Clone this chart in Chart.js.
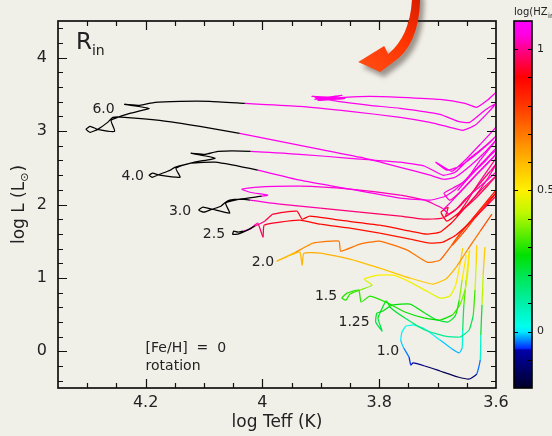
<!DOCTYPE html>
<html>
<head>
<meta charset="utf-8">
<script src="https://cdn.jsdelivr.net/npm/chart.js@4.4.1/dist/chart.umd.min.js"></script>
<style>
  html, body { margin: 0; padding: 0; background: #f0efe8; }
  canvas { display: block; }
</style>
</head>
<body>
<canvas id="hr" width="552" height="436"></canvas>
<script>
// Evolutionary tracks, [Fe/H] = 0 with rotation.
// Each track: log Teff, log L (Lsun) and log(HZ_in) along the track.
const massLabels = ['6.0', '4.0', '3.0', '2.5', '2.0', '1.5', '1.25', '1.0'];

const teff60 = [3.600,3.619,3.645,3.670,3.689,3.713,3.764,3.833,3.901,3.970,4.039,
  4.107,4.176,4.236,4.256,4.265,4.282,4.295,4.302,4.295,4.282,4.253,4.259,4.227,4.194,4.236,4.210,4.184,4.141,4.090,
  4.030,3.936,3.850,3.764,3.713,3.679,3.657,3.636,3.615,3.600,
  3.619,3.645,3.665,3.696,3.764,3.816,3.871,3.910,3.867,3.915,3.859,3.905,3.864,3.910,3.859,
  3.816,3.764,3.696,3.653,3.633,3.615,3.600];
const lum60 = [2.875,2.712,2.521,2.371,2.344,2.399,2.507,2.644,2.752,2.861,2.970,
  3.065,3.147,3.188,3.188,3.119,3.024,2.984,3.024,3.065,3.024,2.997,3.147,3.242,3.310,3.365,3.351,3.392,3.405,3.405,
  3.378,3.337,3.269,3.188,3.119,3.052,3.011,3.079,3.242,3.378,
  3.283,3.119,3.133,3.229,3.310,3.351,3.405,3.460,3.432,3.473,3.446,3.419,3.487,3.432,3.460,
  3.473,3.460,3.432,3.378,3.324,3.419,3.528];
const hz60 = [1.07,1.07,1.07,1.07,1.07,1.07,1.07,1.07,1.07,1.07,1.07,
  1.2,1.2,1.2,1.2,1.2,1.2,1.2,1.2,1.2,1.2,1.2,1.2,1.2,1.2,1.2,1.2,1.2,1.2,1.2,
  1.07,1.07,1.07,1.07,1.07,1.07,1.07,1.07,1.07,1.07,
  1.07,1.07,1.07,1.07,1.07,1.07,1.07,1.07,1.07,1.07,1.07,1.07,1.07,1.07,1.07,
  1.07,1.07,1.07,1.07,1.07,1.07,1.07];

const teff40 = [3.600,3.624,3.648,3.669,3.687,3.713,3.764,3.850,3.936,4.008,
  4.081,4.122,4.150,4.158,4.176,4.189,4.194,4.188,4.176,4.141,4.148,4.116,4.081,4.122,4.098,4.076,
  4.020,3.936,3.850,3.764,3.722,3.691,3.670,3.645,3.619,3.600,3.614,3.638,3.662,3.684,3.703,3.689,3.675,3.653,3.627,3.600];
const lum40 = [2.739,2.562,2.371,2.208,2.113,2.059,2.086,2.208,2.331,2.467,
  2.576,2.562,2.507,2.467,2.412,2.371,2.399,2.426,2.399,2.371,2.494,2.576,2.630,2.698,2.684,2.725,
  2.725,2.684,2.630,2.576,2.521,2.399,2.439,2.630,2.793,2.929,2.820,2.657,2.521,2.467,2.576,2.507,2.453,2.603,2.820,3.052];
const hz40 = [1.07,1.07,1.07,1.07,1.07,1.07,1.07,1.07,1.07,1.07,
  1.2,1.2,1.2,1.2,1.2,1.2,1.2,1.2,1.2,1.2,1.2,1.2,1.2,1.2,1.2,1.2,
  1.07,1.07,1.07,1.07,1.07,1.07,1.07,1.07,1.07,1.07,1.07,1.07,1.07,1.07,1.07,1.07,1.07,1.07,1.07,1.07];

const teff30 = [3.600,3.627,3.651,3.670,3.692,3.725,3.764,3.833,3.901,3.970,4.021,
  4.039,4.056,4.063,4.071,4.086,4.100,4.109,4.102,4.086,4.056,4.063,4.039,
  4.001,3.991,4.021,4.035,4.013,3.936,3.850,3.764,3.722,3.692,3.681,3.689,3.679,3.658,3.633,3.610,3.600,
  3.614,3.638,3.662,3.679,3.689,3.674,3.651,3.624,3.600,
  3.617,3.645,3.665,3.651,3.627,3.600];
const lum30 = [2.439,2.249,2.086,1.922,1.814,1.800,1.841,1.895,1.950,2.004,2.059,
  2.072,2.059,2.031,1.977,1.936,1.895,1.922,1.963,1.936,1.882,2.018,2.072,
  2.113,2.127,2.167,2.208,2.235,2.249,2.208,2.127,2.059,1.950,1.868,1.936,2.018,2.195,2.412,2.603,2.684,
  2.562,2.371,2.167,2.059,2.154,2.222,2.331,2.562,2.766,
  2.603,2.385,2.195,2.331,2.603,2.875];
const hz30 = [1.06,1.03,1.0,0.97,0.95,0.95,0.96,0.98,1.0,1.03,1.06,
  1.2,1.2,1.2,1.2,1.2,1.2,1.2,1.2,1.2,1.2,1.2,1.2,
  1.07,1.07,1.07,1.07,1.07,1.05,1.03,1.02,1.02,1.03,1.03,1.03,1.04,1.05,1.06,1.07,1.07,
  1.06,1.05,1.04,1.03,1.04,1.04,1.05,1.06,1.07,
  1.06,1.05,1.04,1.05,1.06,1.07];

const teff25 = [3.600,3.622,3.646,3.669,3.691,3.713,3.747,3.799,3.850,3.901,3.936,3.970,3.997,3.999,4.008,4.021,4.033,
  4.042,4.049,4.051,4.042,4.033,
  4.013,3.996,3.982,3.941,3.932,3.919,3.867,3.799,3.747,3.718,3.696,3.675,3.651,3.626,3.600,
  3.612,3.638,3.662,3.684,3.694,3.682,3.686,3.662,3.636,3.610,3.600,
  3.614,3.641,3.667,3.655,3.631,3.600];
const lum25 = [2.113,1.936,1.745,1.582,1.487,1.473,1.528,1.609,1.677,1.732,1.786,1.759,1.718,1.555,1.745,1.664,1.637,
  1.623,1.637,1.596,1.596,1.623,
  1.705,1.773,1.868,1.909,1.800,1.841,1.786,1.718,1.637,1.596,1.623,1.759,1.977,2.195,2.385,
  2.276,2.059,1.895,1.773,1.895,1.963,1.841,1.977,2.208,2.453,2.548,
  2.358,2.059,1.841,1.977,2.276,2.630];
const hz25 = [0.98,0.95,0.92,0.89,0.87,0.86,0.86,0.87,0.88,0.89,0.90,0.92,0.94,0.95,1.0,1.05,1.07,
  1.2,1.2,1.2,1.2,1.2,
  1.03,0.97,0.93,0.92,0.91,0.90,0.90,0.89,0.88,0.88,0.88,0.90,0.93,0.97,1.0,
  0.98,0.95,0.92,0.91,0.92,0.92,0.92,0.93,0.96,1.0,1.02,
  1.0,0.96,0.93,0.94,0.98,1.03];

const teff20 = [3.607,3.627,3.648,3.667,3.686,3.708,3.747,3.799,3.850,3.901,3.929,3.932,3.936,3.956,3.975,
  3.943,3.913,3.869,3.866,3.833,3.799,3.752,3.718,3.696,3.667,3.645,3.621,3.600,
  3.614,3.636,3.658,3.675,3.665,3.641,3.617,3.600];
const lum20 = [1.868,1.637,1.392,1.161,0.984,0.916,0.997,1.133,1.256,1.337,1.337,1.174,1.351,1.297,1.229,
  1.351,1.473,1.501,1.365,1.460,1.501,1.378,1.215,1.242,1.541,1.759,1.977,2.154,
  2.018,1.814,1.596,1.446,1.569,1.800,2.031,2.195];
const hz20 = [0.80,0.74,0.68,0.63,0.59,0.57,0.57,0.58,0.60,0.62,0.62,0.60,0.60,0.59,0.58,
  0.62,0.70,0.71,0.70,0.71,0.72,0.71,0.70,0.71,0.76,0.81,0.86,0.90,
  0.87,0.82,0.77,0.74,0.76,0.80,0.86,0.90];

const teff15 = [3.645,3.648,3.653,3.662,3.675,3.696,3.722,3.756,3.785,3.816,3.831,3.835,3.855,3.864,3.857,3.850,
  3.833,3.812,3.826,3.802,3.776,3.747,3.716,3.696,3.679,3.669,3.662,3.657];
const lum15 = [1.378,1.106,0.834,0.630,0.494,0.426,0.453,0.535,0.657,0.752,0.671,0.834,0.793,0.725,0.698,0.780,
  0.834,0.902,0.984,1.038,1.038,0.943,0.807,0.725,0.752,0.902,1.174,1.405];
const hz15 = [0.55,0.48,0.40,0.33,0.29,0.27,0.27,0.28,0.29,0.30,0.30,0.30,0.30,0.30,0.30,0.30,
  0.33,0.42,0.48,0.50,0.50,0.49,0.47,0.46,0.47,0.49,0.53,0.58];

const teff125 = [3.633,3.634,3.636,3.639,3.646,3.662,3.687,3.722,3.756,3.780,3.788,3.802,3.795,3.806,3.804,3.794,
  3.778,3.747,3.722,3.701,3.682,3.670,3.663,3.658,3.651];
const lum125 = [1.446,1.174,0.834,0.494,0.290,0.195,0.208,0.290,0.453,0.589,0.684,0.453,0.276,0.399,0.521,0.548,
  0.630,0.643,0.521,0.426,0.399,0.480,0.698,0.970,1.310];
const hz125 = [0.60,0.50,0.38,0.25,0.15,0.12,0.12,0.14,0.20,0.25,0.27,0.22,0.20,0.22,0.25,0.25,
  0.27,0.27,0.25,0.22,0.22,0.25,0.32,0.45,0.58];

const teff10 = [3.619,3.622,3.624,3.626,3.627,3.633,3.645,3.665,3.696,3.722,3.742,3.746,3.749,3.758,3.763,
  3.761,3.754,3.740,3.722,3.696,3.675,3.663,3.658,3.657,3.655,3.651,3.646];
const lum10 = [1.419,1.038,0.630,0.222,-0.118,-0.309,-0.377,-0.350,-0.268,-0.200,-0.159,-0.186,-0.078,0.045,0.154,
  0.263,0.344,0.358,0.303,0.154,0.031,-0.023,0.045,0.290,0.630,0.970,1.365];
const hz10 = [0.65,0.50,0.33,0.12,0.0,-0.08,-0.15,-0.17,-0.15,-0.12,-0.08,-0.07,-0.05,-0.02,0.0,
  0.01,0.02,0.02,0.02,0.0,-0.02,-0.02,0.0,0.10,0.25,0.42,0.60];

// Where each mass label sits (log Teff, log L)
const labelTeff = [4.272, 4.222, 4.141, 4.083, 3.999, 3.891, 3.843, 3.785];
const labelLum  = [3.296, 2.385, 1.909, 1.596, 1.215, 0.752, 0.399, 0.004];

// Axis tick labels and colour-bar range
const teffTickLabels = [3.6, 3.8, 4.0, 4.2];
const lumTickLabels = [0, 1, 2, 3, 4];
const hzTickLabels = [0, 0.5, 1];
const HZ_MIN = -0.2, HZ_MAX = 1.1;

// Pointer arrow tip (log Teff, log L)
const arrowTip = [3.836, 3.94];

const BG = '#f0efe8';
const INK = '#222';
const FONT = 'DejaVu Sans';

// Colour map for log(HZ_in); values above the top of the bar are drawn black
const cmapStops = [
  [-0.2, [0, 0, 40]], [-0.065, [0, 0, 170]], [-0.06, [0, 40, 255]], [-0.03, [0, 140, 255]],
  [0.0, [0, 235, 255]], [0.02, [0, 255, 235]], [0.1, [0, 240, 170]], [0.2, [0, 230, 80]],
  [0.27, [0, 225, 0]], [0.35, [100, 238, 0]], [0.42, [190, 248, 0]], [0.5, [255, 240, 0]],
  [0.6, [255, 185, 0]], [0.7, [255, 120, 0]], [0.8, [255, 55, 0]], [0.9, [255, 0, 0]],
  [0.95, [255, 0, 70]], [1.0, [255, 0, 140]], [1.05, [255, 0, 225]], [1.1, [255, 0, 255]]
];
function cmap(v) {
  if (v <= cmapStops[0][0]) return cmapStops[0][1];
  for (let i = 1; i < cmapStops.length; i++) {
    const [v1, c1] = cmapStops[i];
    if (v <= v1) {
      const [v0, c0] = cmapStops[i - 1];
      const t = (v - v0) / (v1 - v0);
      return c0.map((c, k) => Math.round(c + (c1[k] - c) * t));
    }
  }
  return cmapStops[cmapStops.length - 1][1];
}
function hzColor(v) {
  if (v > HZ_MAX + 1e-9) return '#000';
  const c = cmap(v);
  return `rgb(${c[0]},${c[1]},${c[2]})`;
}

const tracks = [
  [teff60, lum60, hz60], [teff40, lum40, hz40], [teff30, lum30, hz30], [teff25, lum25, hz25],
  [teff20, lum20, hz20], [teff15, lum15, hz15], [teff125, lum125, hz125], [teff10, lum10, hz10]
];

const datasets = tracks.map(([t, l, h], i) => ({
  label: massLabels[i],
  data: t.map((x, j) => ({ x, y: l[j] })),
  showLine: true,
  pointRadius: 0,
  borderWidth: 1.25,
  tension: 0.15,
  borderColor: hzColor(h[0]),
  segment: {
    borderColor: ctx => hzColor((h[ctx.p0DataIndex] + h[ctx.p1DataIndex]) / 2)
  }
}));

const decor = {
  id: 'decor',
  beforeDraw(chart) {
    const c = chart.ctx;
    c.save();
    c.fillStyle = BG;
    c.fillRect(0, 0, chart.width, chart.height);
    c.restore();
  },
  afterDraw(chart) {
    const c = chart.ctx, a = chart.chartArea;
    const xs = chart.scales.x, ys = chart.scales.y, cb = chart.scales.cb;
    c.save();

    // inward tick marks on all four sides
    c.strokeStyle = '#111';
    c.lineWidth = 1.2;
    c.beginPath();
    for (let k = 73; k <= 86; k++) {
      const px = Math.round(xs.getPixelForValue(k * 0.05)) + 0.5;
      const len = k % 4 === 0 ? 9 : 5;
      c.moveTo(px, a.bottom); c.lineTo(px, a.bottom - len);
      c.moveTo(px, a.top); c.lineTo(px, a.top + len);
    }
    for (let k = -2; k <= 22; k++) {
      const py = Math.round(ys.getPixelForValue(k * 0.2)) + 0.5;
      const len = k % 5 === 0 ? 9 : 5;
      c.moveTo(a.left, py); c.lineTo(a.left + len, py);
      c.moveTo(a.right, py); c.lineTo(a.right - len, py);
    }
    c.stroke();

    // plot frame
    c.lineWidth = 1.7;
    c.strokeStyle = '#111';
    c.strokeRect(a.left, a.top, a.right - a.left, a.bottom - a.top);

    // axis titles
    c.fillStyle = INK;
    c.font = `17px "${FONT}"`;
    c.textAlign = 'center';
    c.textBaseline = 'middle';
    c.fillText('log Teff (K)', (a.left + a.right) / 2, 423);

    c.save();
    c.translate(18, (a.top + a.bottom) / 2);
    c.rotate(-Math.PI / 2);
    c.textAlign = 'left';
    c.textBaseline = 'alphabetic';
    c.font = `17px "${FONT}"`;
    const p1 = 'log L (L', p3 = ')';
    const w1 = c.measureText(p1).width, w3 = c.measureText(p3).width;
    c.font = `11px "${FONT}"`;
    const w2 = c.measureText('\u2299').width + 1;
    const x0 = -(w1 + w2 + w3) / 2;
    c.font = `17px "${FONT}"`;
    c.fillText(p1, x0, 6);
    c.font = `11px "${FONT}"`;
    c.fillText('\u2299', x0 + w1, 10);
    c.font = `17px "${FONT}"`;
    c.fillText(p3, x0 + w1 + w2, 6);
    c.restore();

    // panel tag
    c.textAlign = 'left';
    c.textBaseline = 'alphabetic';
    c.font = `23px "${FONT}"`;
    c.fillText('R', a.left + 18, a.top + 28);
    const rw = c.measureText('R').width;
    c.font = `14px "${FONT}"`;
    c.fillText('in', a.left + 18 + rw, a.top + 34);

    // model notes
    c.font = `14px "${FONT}"`;
    c.textBaseline = 'middle';
    const nx = xs.getPixelForValue(4.2);
    c.fillText('[Fe/H]  =  0', nx, a.bottom - 40);
    c.fillText('rotation', nx, a.bottom - 22);

    // mass labels
    c.textAlign = 'center';
    c.font = `14px "${FONT}"`;
    massLabels.forEach((m, i) => {
      c.fillText(m, xs.getPixelForValue(labelTeff[i]), ys.getPixelForValue(labelLum[i]));
    });

    // colour bar
    const bx = a.right + 18, bw = 18;
    const btop = cb.getPixelForValue(HZ_MAX), bbot = cb.getPixelForValue(HZ_MIN);
    for (let y = Math.floor(btop); y < Math.ceil(bbot); y++) {
      const v = cb.getValueForPixel(y + 0.5);
      const col = cmap(Math.min(HZ_MAX, Math.max(HZ_MIN, v)));
      c.fillStyle = `rgb(${col[0]},${col[1]},${col[2]})`;
      c.fillRect(bx, y, bw, 1);
    }
    c.strokeStyle = '#000';
    c.lineWidth = 1.6;
    c.strokeRect(bx, btop, bw, bbot - btop);
    c.lineWidth = 1.2;
    c.beginPath();
    for (let k = -1; k <= 10; k++) {
      const py = Math.round(cb.getPixelForValue(k / 10)) + 0.5;
      c.moveTo(bx + bw, py); c.lineTo(bx + bw - 4, py);
      if (k % 5 === 0) { c.moveTo(bx, py); c.lineTo(bx + 4, py); }
    }
    c.stroke();
    c.fillStyle = INK;
    c.textAlign = 'left';
    c.textBaseline = 'middle';
    c.font = `11px "${FONT}"`;
    hzTickLabels.forEach(v => c.fillText(String(v), bx + bw + 5, cb.getPixelForValue(v)));
    c.textBaseline = 'alphabetic';
    c.font = `10px "${FONT}"`;
    c.fillText('log(HZ', bx, 15);
    const hw = c.measureText('log(HZ').width;
    c.font = `7px "${FONT}"`;
    c.fillText('in', bx + hw + 0.5, 18);
    c.fillText(')', bx + hw + 7, 15);

    // curved pointer arrow
    const tx = xs.getPixelForValue(arrowTip[0]), ty = ys.getPixelForValue(arrowTip[1]);
    c.translate(tx, ty);
    c.beginPath();
    c.moveTo(54, -70);
    c.quadraticCurveTo(54, -28, 30, -8);
    c.lineTo(26, -16);
    c.lineTo(0, 0);
    c.lineTo(22, 10);
    c.lineTo(34, 1);
    c.quadraticCurveTo(63, -18, 62, -70);
    c.closePath();
    c.shadowColor = 'rgba(50,35,25,0.45)';
    c.shadowBlur = 5;
    c.shadowOffsetX = 4;
    c.shadowOffsetY = 5;
    const g = c.createLinearGradient(60, -66, 5, 0);
    g.addColorStop(0, '#d81c00');
    g.addColorStop(0.5, '#ff3300');
    g.addColorStop(1, '#ff4a12');
    c.fillStyle = g;
    c.fill();

    c.restore();
  }
};

new Chart(document.getElementById('hr'), {
  type: 'scatter',
  data: { datasets },
  options: {
    responsive: false,
    animation: false,
    events: [],
    layout: { padding: { left: 0, right: 56, top: 21, bottom: 0 } },
    plugins: { legend: { display: false }, tooltip: { enabled: false } },
    scales: {
      x: {
        type: 'linear',
        reverse: true,
        min: 3.6,
        max: 4.35,
        grid: { display: false, drawTicks: false },
        border: { display: false },
        afterBuildTicks: s => { s.ticks = teffTickLabels.map(v => ({ value: v })); },
        afterFit: s => { s.height = 48; },
        ticks: {
          autoSkip: false, maxRotation: 0, padding: 5,
          color: INK, font: { family: FONT, size: 16 },
          callback: v => String(+Number(v).toFixed(2))
        }
      },
      y: {
        type: 'linear',
        min: -0.5,
        max: 4.5,
        grid: { display: false, drawTicks: false },
        border: { display: false },
        afterBuildTicks: s => { s.ticks = lumTickLabels.map(v => ({ value: v })); },
        afterFit: s => { s.width = 58; },
        ticks: {
          autoSkip: false, padding: 11,
          color: INK, font: { family: FONT, size: 16 },
          callback: v => String(v)
        }
      },
      cb: {
        type: 'linear',
        axis: 'y',
        position: 'right',
        min: HZ_MIN,
        max: HZ_MAX,
        display: false
      }
    }
  },
  plugins: [decor]
});
</script>
</body>
</html>
